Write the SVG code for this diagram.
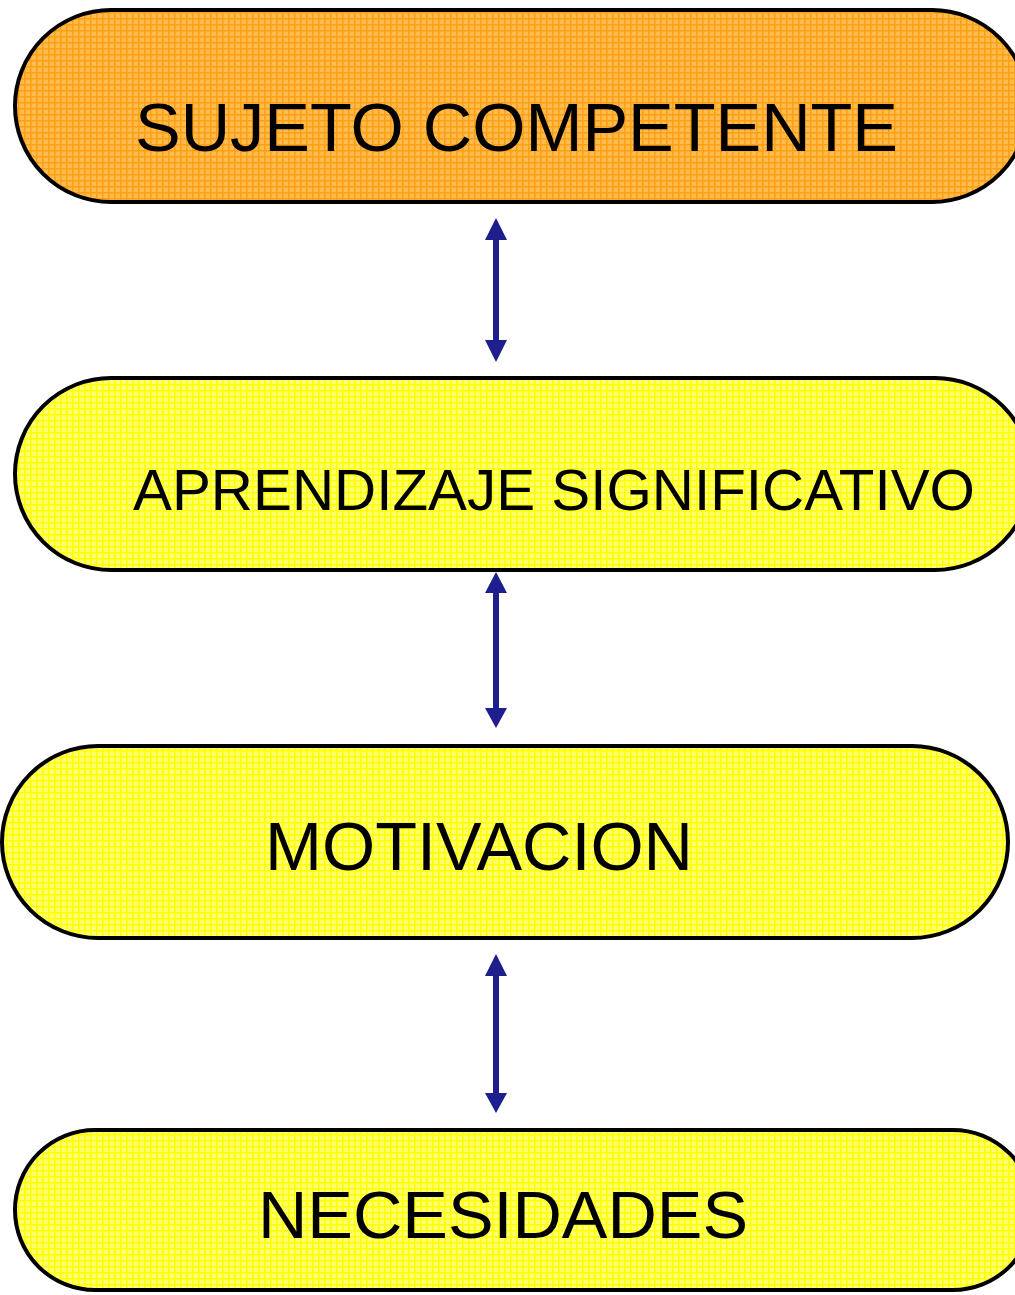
<svg xmlns="http://www.w3.org/2000/svg" width="1015" height="1295" viewBox="0 0 1015 1295">
<style>
.box{stroke:#000;stroke-width:4}
.lbl{font-family:"Liberation Sans",Arial,sans-serif;fill:#000}
.arr{fill:#1E1E8C}
</style>
<defs>
<pattern id="po" width="6" height="6" patternUnits="userSpaceOnUse">
<rect width="6" height="6" fill="#FFBB50"/>
<rect width="6" height="1.5" fill="#FFA010"/>
<rect width="1.5" height="6" fill="#FFA010"/>
</pattern>
<pattern id="py" width="6" height="6" patternUnits="userSpaceOnUse">
<rect width="6" height="6" fill="#FFFF70"/>
<rect width="6" height="1.5" fill="#FFFF00"/>
<rect width="1.5" height="6" fill="#FFFF00"/>
</pattern>
</defs>
<rect width="1015" height="1295" fill="#fff"/>
<g id="connectors">
<path class="arr" d="M496,218 L507,240 L499,240 L499,340 L507,340 L496,362 L485,340 L493,340 L493,240 L485,240 Z"/>
<path class="arr" d="M496,572 L507,593 L499,593 L499,708 L507,708 L496,728 L485,708 L493,708 L493,593 L485,593 Z"/>
<path class="arr" d="M496,954 L507,976 L499,976 L499,1093 L507,1093 L496,1113 L485,1093 L493,1093 L493,976 L485,976 Z"/>
</g>
<g id="sujeto">
<rect class="box" x="15" y="10" width="1013" height="192" rx="96" ry="96" fill="url(#po)"/>
<text class="lbl" x="135" y="151" font-size="69" textLength="763" lengthAdjust="spacingAndGlyphs">SUJETO COMPETENTE</text>
</g>
<g id="aprendizaje">
<rect class="box" x="15" y="378" width="1016" height="192" rx="96" ry="96" fill="url(#py)"/>
<text class="lbl" x="133" y="510" font-size="57" textLength="842" lengthAdjust="spacingAndGlyphs">APRENDIZAJE SIGNIFICATIVO</text>
</g>
<g id="motivacion">
<rect class="box" x="2" y="746" width="1006" height="192" rx="96" ry="96" fill="url(#py)"/>
<text class="lbl" x="265" y="870" font-size="68" textLength="428" lengthAdjust="spacingAndGlyphs">MOTIVACION</text>
</g>
<g id="necesidades">
<rect class="box" x="15" y="1130" width="1018" height="160" rx="80" ry="80" fill="url(#py)"/>
<text class="lbl" x="258" y="1238" font-size="67" textLength="490" lengthAdjust="spacingAndGlyphs">NECESIDADES</text>
</g>
</svg>
